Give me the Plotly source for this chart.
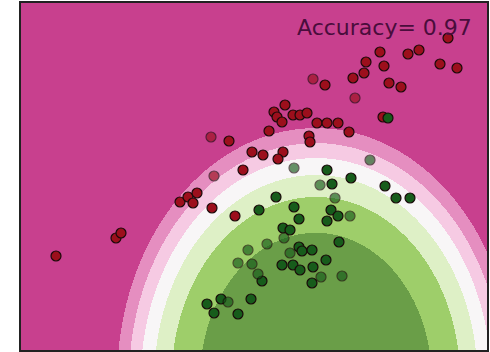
import numpy as np
import plotly.graph_objects as go

# ---- class 0 (red) ----
red_train_x = [-1.65, -1.05, -1.00, -0.41, -0.33, -0.24, -0.28, -0.09, 0.14, 0.22,
               0.31, 0.42, 0.62, 0.57, 0.48, 0.53, 0.56, 0.64, 0.61, 0.72,
               0.79, 0.86, 0.96, 1.06, 1.17, 1.28, 0.88, 0.89, 1.04, 1.32,
               1.43, 1.45, 1.63, 1.59, 1.87, 1.98, 2.19, 2.36, 1.68, 1.80,
               1.62, 0.08, 2.27]
red_train_y = [-0.06, 0.12, 0.17, 0.48, 0.53, 0.57, 0.47, 0.42, 0.34, 0.80,
               0.98, 0.95, 0.98, 0.91, 1.19, 1.38, 1.33, 1.45, 1.28, 1.35,
               1.35, 1.37, 1.27, 1.27, 1.27, 1.18, 1.14, 1.08, 1.65, 1.72,
               1.77, 1.88, 1.84, 1.98, 1.96, 2.00, 1.86, 1.82, 1.67, 1.63,
               1.33, 1.09, 2.12]
red_test_x = [0.92, -0.10, -0.07, 1.34]
red_test_y = [1.71, 1.13, 0.74, 1.52]

# ---- class 1 (green) ----
green_train_x = [1.06, 1.67, 1.11, 1.30, 1.64, 1.75, 1.89, 0.55, 0.38, 0.73,
                 0.78, 1.10, 1.06, 1.17, 0.62, 0.69, 0.78, 0.81, 0.91, 1.18,
                 0.61, 0.72, 0.79, 0.92, 1.05, 0.41, 0.91, -0.14, 0.00, 0.30,
                 -0.07, 0.17]
green_train_y = [0.80, 1.32, 0.66, 0.72, 0.64, 0.52, 0.52, 0.53, 0.40, 0.43,
                 0.31, 0.40, 0.29, 0.34, 0.22, 0.20, 0.03, -0.01, 0.00, 0.08,
                 -0.15, -0.15, -0.20, -0.17, -0.10, -0.31, -0.33, -0.54, -0.49, -0.49,
                 -0.63, -0.64]
green_test_x = [0.73, 1.49, 0.99, 1.14, 1.29, 0.63, 0.27, 0.46, 0.69, 0.17,
                0.31, 1.21, 0.37, 1.00, 0.07]
green_test_y = [0.82, 0.90, 0.65, 0.52, 0.34, 0.12, 0.00, 0.06, -0.03, -0.13,
                -0.14, -0.26, -0.24, -0.27, -0.52]

accuracy = 0.97

# ---- decision surface: elliptical class-1 score, banded into 7 levels ----
center_x, center_y = 0.95, -1.30
axis_ratio = 0.79
level_radii = [1.47, 1.83, 2.05, 2.22, 2.37, 2.52]
band_colors = [
    "rgb(106,158,72)",   # strongest green
    "rgb(158,206,106)",
    "rgb(222,240,198)",
    "rgb(248,246,247)",
    "rgb(246,202,227)",
    "rgb(229,142,192)",
    "rgb(200,64,142)",   # strongest magenta
]

x_min, x_max = -2.0, 2.66
y_min, y_max = -1.0, 2.47
nx, ny = 466, 347
gx = np.linspace(x_min, x_max, nx)
gy = np.linspace(y_min, y_max, ny)
GX, GY = np.meshgrid(gx, gy)
r = np.sqrt(((GX - center_x) / axis_ratio) ** 2 + (GY - center_y) ** 2)
band = np.digitize(r, level_radii)

n = len(band_colors)
colorscale = []
for i, c in enumerate(band_colors):
    colorscale.append([i / n, c])
    colorscale.append([(i + 1) / n, c])

fig = go.Figure()
fig.add_trace(go.Heatmap(
    x=gx, y=gy, z=band, zmin=-0.5, zmax=n - 0.5,
    colorscale=colorscale, showscale=False, hoverinfo="skip",
))

red = "#9c0f1c"
green = "#175c1b"
edge = dict(color="#1a0a0a", width=1.2)

fig.add_trace(go.Scatter(x=red_train_x, y=red_train_y, mode="markers",
                         marker=dict(size=10, color=red, line=edge), showlegend=False))
fig.add_trace(go.Scatter(x=green_train_x, y=green_train_y, mode="markers",
                         marker=dict(size=10, color=green, line=edge), showlegend=False))
fig.add_trace(go.Scatter(x=red_test_x, y=red_test_y, mode="markers",
                         marker=dict(size=10, color=red, line=edge, opacity=0.65), showlegend=False))
fig.add_trace(go.Scatter(x=green_test_x, y=green_test_y, mode="markers",
                         marker=dict(size=10, color=green, line=edge, opacity=0.65), showlegend=False))

fig.add_annotation(
    x=0.973, y=0.93, xref="paper", yref="paper",
    xanchor="right", yanchor="middle", showarrow=False,
    text=f"Accuracy= {accuracy:.2f}",
    font=dict(family="DejaVu Sans", size=22, color="#4a0d3c"),
)

axis_style = dict(showgrid=False, zeroline=False, showticklabels=False, ticks="",
                  showline=True, linecolor="#222222", linewidth=1.5, mirror=True)
fig.update_xaxes(range=[x_min, x_max], **axis_style)
fig.update_yaxes(range=[y_min, y_max], **axis_style)
fig.update_layout(
    width=490, height=352,
    margin=dict(l=21, r=3, t=3, b=2),
    paper_bgcolor="white", plot_bgcolor="white",
)

fig.write_html("out.html")
